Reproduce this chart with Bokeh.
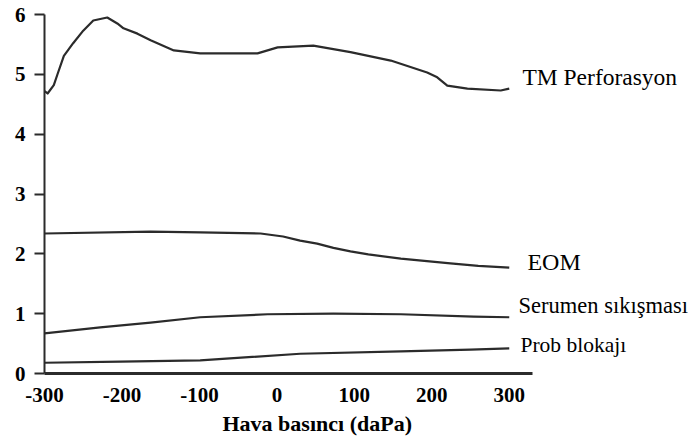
from bokeh.plotting import figure
from bokeh.models import Range1d, FixedTicker, Title, Label
from bokeh.embed import file_html
from bokeh.resources import INLINE

# Air pressure (daPa) and measured values for each condition
tm_x = [-300, -296, -288, -283, -275, -263, -250, -237, -219, -206, -198, -180,
        -163, -133, -99, -25, 1, 47, 95, 147, 194, 207, 220, 246, 289, 300]
tm_y = [4.72, 4.68, 4.82, 5.01, 5.31, 5.52, 5.73, 5.90, 5.95, 5.85, 5.77, 5.68,
        5.57, 5.40, 5.35, 5.35, 5.45, 5.48, 5.37, 5.23, 5.03, 4.95, 4.81, 4.76, 4.73, 4.76]

eom_x = [-300, -163, -99, -21, 8, 30, 52, 73, 95, 118, 160, 224, 260, 300]
eom_y = [2.34, 2.37, 2.36, 2.34, 2.29, 2.22, 2.17, 2.10, 2.04, 1.99, 1.92, 1.84, 1.80, 1.77]

ser_x = [-300, -228, -163, -99, -12, 73, 160, 254, 300]
ser_y = [0.67, 0.77, 0.85, 0.94, 0.99, 1.00, 0.99, 0.95, 0.94]

prob_x = [-300, -202, -99, 30, 160, 250, 300]
prob_y = [0.18, 0.20, 0.22, 0.33, 0.37, 0.40, 0.42]

series_names = ["TM Perforasyon", "EOM", "Serumen sıkışması", "Prob blokajı"]

x_ticks = [-300, -200, -100, 0, 100, 200, 300]
x_tick_labels = ["-300", "-200", "-100", "0", "100", "200", "300"]
y_ticks = [0, 1, 2, 3, 4, 5, 6]

SERIF = "Liberation Serif"
INK = "#2b2b2b"

# the frame runs to the right edge so the series names fit inside it;
# the x axis line itself is bounded to the data extent
p = figure(width=688, height=441,
           x_range=Range1d(-300, 531.4), y_range=Range1d(0, 6),
           output_backend="svg", toolbar_location=None,
           min_border_left=44, min_border_right=0,
           min_border_top=14, min_border_bottom=68)
p.outline_line_color = None
p.grid.visible = False
p.background_fill_color = "white"
p.border_fill_color = "white"

for xs, ys in [(tm_x, tm_y), (eom_x, eom_y), (ser_x, ser_y), (prob_x, prob_y)]:
    p.line(xs, ys, line_color=INK, line_width=2.2, line_join="round")

# y axis: ticks outside, bold serif numbers
ya = p.yaxis[0]
ya.ticker = FixedTicker(ticks=y_ticks)
ya.axis_line_color = INK
ya.axis_line_width = 2
ya.major_tick_line_color = INK
ya.major_tick_line_width = 2
ya.major_tick_out = 10
ya.major_tick_in = 0
ya.minor_tick_line_color = None
ya.major_label_standoff = 9
ya.major_label_text_font = SERIF
ya.major_label_text_font_style = "bold"
ya.major_label_text_font_size = "21px"
ya.major_label_text_color = "black"

# x axis: heavy line, no tick marks, hyphen-minus labels
xa = p.xaxis[0]
xa.bounds = (-300, 330)
xa.ticker = FixedTicker(ticks=x_ticks)
xa.major_label_overrides = dict(zip(x_ticks, x_tick_labels))
xa.axis_line_color = INK
xa.axis_line_width = 3
xa.major_tick_line_color = None
xa.major_tick_out = 0
xa.major_tick_in = 0
xa.minor_tick_line_color = None
xa.major_label_standoff = 14
xa.major_label_text_font = SERIF
xa.major_label_text_font_style = "bold"
xa.major_label_text_font_size = "21px"
xa.major_label_text_color = "black"

# axis title under the tick labels
p.add_layout(Title(text="Hava basıncı (daPa)", align="left", offset=178,
                   text_font=SERIF, text_font_style="bold", text_font_size="22px",
                   text_color="black", standoff=8), "below")

# series names next to each line end
label_anchor = [(317, 4.956, "23.5px"), (323.5, 1.864, "24px"),
                (312, 1.13, "22.5px"), (314.5, 0.476, "21.5px")]
for name, (lx, ly, fs) in zip(series_names, label_anchor):
    p.add_layout(Label(x=lx, y=ly, text=name, text_font=SERIF, text_font_size=fs,
                       text_color="black", text_baseline="middle", text_align="left"))

open("out.html", "w").write(file_html(p, INLINE))
